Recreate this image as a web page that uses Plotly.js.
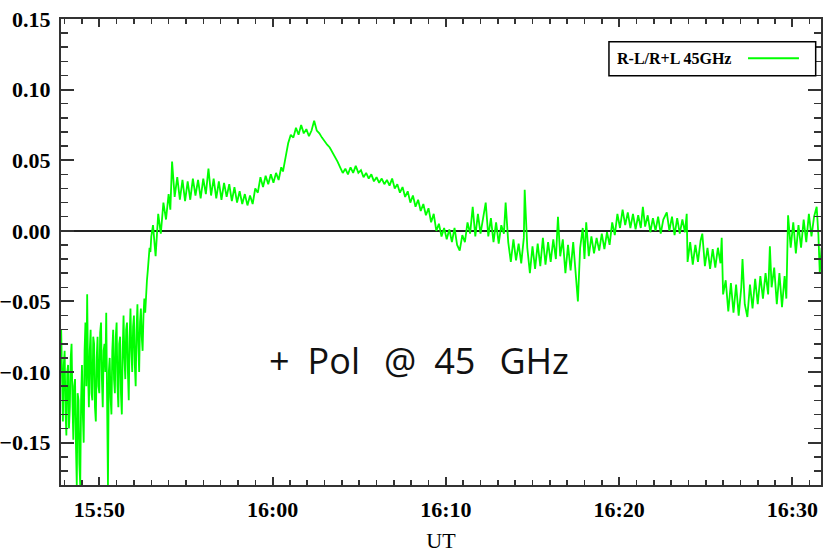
<!DOCTYPE html>
<html><head><meta charset="utf-8">
<script src="https://cdn.plot.ly/plotly-3.0.1.min.js"></script>
<style>html,body{margin:0;padding:0;background:#fff}#chart{width:823px;height:553px}</style>
</head><body><div id="chart"></div>
<script>
// Time of each sample, in minutes after 15:00 UT
const minutesAfter15 = [
47.80,47.85,47.90,47.95,48.00,48.05,48.10,48.15,48.20,48.25,48.30,48.35,48.40,48.45,48.50,48.55,48.60,48.65,48.70,48.75,
48.80,48.85,48.90,48.95,49.00,49.05,49.10,49.15,49.20,49.25,49.30,49.35,49.40,49.45,49.50,49.55,49.60,49.65,49.70,49.75,
49.80,49.85,49.90,49.95,50.00,50.05,50.10,50.15,50.20,50.25,50.30,50.35,50.40,50.45,50.50,50.55,50.60,50.65,50.70,50.75,
50.80,50.85,50.90,50.95,51.00,51.05,51.10,51.15,51.20,51.25,51.30,51.35,51.40,51.45,51.50,51.55,51.60,51.65,51.70,51.75,
51.80,51.85,51.90,51.95,52.00,52.05,52.10,52.15,52.20,52.25,52.30,52.35,52.40,52.45,52.50,52.55,52.60,52.65,52.70,52.75,
52.80,52.85,52.90,52.95,53.00,
53.1,53.25,53.4,53.55,53.7,53.85,54.0,54.1,54.2,54.35,54.5,54.65,54.8,54.95,55.1,55.25,55.4,55.55,55.7,55.85,
56.0,56.15,56.3,56.45,56.6,56.75,56.9,57.05,57.2,57.35,57.5,57.65,57.8,57.95,58.1,58.25,58.4,58.55,58.7,58.85,
59.0,59.15,59.3,59.45,59.6,59.75,59.9,60.05,60.2,60.35,60.5,60.6,60.75,60.9,61.05,61.2,61.35,61.5,61.65,61.8,61.95,
62.1,62.25,62.4,62.55,62.7,62.85,63.0,63.15,63.3,63.45,63.6,63.75,63.9,64.05,64.2,64.35,64.5,64.65,64.8,64.95,
65.1,65.25,65.4,65.55,65.7,65.85,66.0,66.15,66.3,66.45,66.6,66.75,66.9,67.05,67.2,67.35,67.5,67.65,67.8,67.95,
68.1,68.25,68.4,68.55,68.7,68.85,69.0,69.15,69.3,69.45,69.6,69.75,69.9,70.05,70.2,70.35,70.5,70.65,70.8,70.95,
71.1,71.25,71.4,71.55,71.7,71.85,72.0,72.15,72.3,72.45,72.6,72.75,72.9,73.05,73.2,73.35,73.45,73.6,73.75,73.9,
74.05,74.2,74.35,74.5,74.55,74.7,74.85,75.0,75.15,75.3,75.45,75.6,75.75,75.9,76.05,76.2,76.35,76.47,76.6,76.75,
76.9,77.05,77.2,77.35,77.5,77.62,77.75,77.9,78.0,78.1,78.25,78.4,78.55,78.7,78.85,79.0,79.15,79.3,79.45,79.6,
79.75,79.9,80.05,80.2,80.35,80.5,80.65,80.8,80.95,81.1,81.25,81.37,81.5,81.65,81.8,81.95,82.1,82.25,82.4,82.55,
82.75,82.9,83.05,83.2,83.35,83.5,83.65,83.8,83.9,83.95,84.1,84.25,84.4,84.55,84.7,84.8,84.95,85.1,85.25,85.4,
85.55,85.7,85.85,85.92,86.0,86.15,86.3,86.45,86.6,86.75,86.9,87.05,87.12,87.25,87.4,87.55,87.7,87.85,88.0,88.15,
88.3,88.45,88.6,88.7,88.8,88.95,89.1,89.25,89.4,89.55,89.65,89.75,89.9,90.05,90.2,90.35,90.5,90.65,90.8,90.95,
91.1,91.25,91.4,91.5,91.58,91.68
];
// (R-L)/(R+L) at 45 GHz
const polarization = [
-0.070,-0.110,-0.135,-0.095,-0.085,-0.128,-0.145,-0.100,-0.095,-0.140,-0.125,-0.090,-0.080,-0.120,-0.148,-0.110,-0.105,-0.150,-0.180,-0.115,
-0.120,-0.165,-0.180,-0.120,-0.095,-0.130,-0.150,-0.085,-0.065,-0.110,-0.045,-0.100,-0.125,-0.085,-0.070,-0.115,-0.120,-0.075,-0.080,-0.125,
-0.135,-0.090,-0.075,-0.110,-0.115,-0.072,-0.065,-0.105,-0.125,-0.085,-0.080,-0.100,-0.058,-0.120,-0.180,-0.100,-0.090,-0.118,-0.130,-0.085,
-0.070,-0.105,-0.115,-0.075,-0.065,-0.110,-0.125,-0.080,-0.075,-0.115,-0.130,-0.085,-0.060,-0.090,-0.105,-0.070,-0.065,-0.100,-0.120,-0.075,
-0.055,-0.085,-0.100,-0.068,-0.060,-0.095,-0.110,-0.070,-0.052,-0.080,-0.100,-0.065,-0.055,-0.075,-0.085,-0.060,-0.048,-0.058,-0.040,-0.035,
-0.028,-0.020,-0.012,-0.015,-0.004,
0.004,-0.018,0.012,-0.002,0.020,0.008,0.026,0.015,0.049,0.024,0.038,0.022,0.036,0.021,0.035,0.022,0.037,0.025,0.036,0.023,
0.037,0.026,0.044,0.025,0.037,0.023,0.035,0.022,0.034,0.024,0.033,0.021,0.031,0.020,0.028,0.019,0.026,0.018,0.025,0.019,
0.030,0.027,0.038,0.031,0.039,0.033,0.040,0.034,0.041,0.036,0.045,0.042,0.052,0.062,0.068,0.066,0.073,0.068,0.075,0.069,0.072,
0.067,0.071,0.078,0.071,0.069,0.066,0.063,0.061,0.059,0.056,0.052,0.049,0.045,0.041,0.044,0.040,0.045,0.041,0.046,0.041,
0.043,0.038,0.041,0.037,0.040,0.035,0.038,0.034,0.037,0.033,0.036,0.032,0.037,0.030,0.033,0.027,0.031,0.024,0.028,0.020,
0.025,0.017,0.022,0.014,0.019,0.011,0.016,0.006,0.012,0.000,0.005,-0.004,0.002,-0.006,0.001,-0.008,0.002,-0.010,-0.014,-0.003,
-0.008,0.006,-0.002,0.017,-0.004,0.012,-0.002,0.010,0.020,-0.004,0.009,-0.008,0.006,-0.009,0.004,-0.002,0.020,-0.008,-0.022,-0.006,
-0.021,-0.009,-0.023,-0.005,0.029,-0.012,-0.030,-0.011,-0.027,-0.009,-0.025,-0.005,-0.024,-0.008,-0.022,-0.006,-0.020,0.010,-0.018,-0.006,
-0.030,-0.010,-0.028,-0.008,-0.033,-0.050,-0.012,0.002,-0.020,0.006,-0.018,-0.004,-0.016,-0.005,-0.014,-0.002,-0.013,-0.001,-0.010,0.006,
-0.003,0.012,0.002,0.015,0.004,0.013,0.002,0.012,0.001,0.011,0.002,0.017,0.003,0.011,-0.001,0.009,0.000,0.010,-0.002,0.008,
0.013,0.000,0.010,-0.003,0.009,-0.002,0.008,-0.001,0.012,-0.022,-0.008,-0.024,-0.010,-0.022,-0.007,-0.002,-0.025,-0.012,-0.027,-0.013,
-0.026,-0.012,-0.023,-0.005,-0.045,-0.035,-0.057,-0.037,-0.058,-0.038,-0.060,-0.040,-0.020,-0.052,-0.061,-0.038,-0.055,-0.034,-0.052,-0.032,
-0.048,-0.030,-0.045,-0.011,-0.040,-0.026,-0.052,-0.030,-0.054,-0.032,-0.048,0.011,-0.012,0.006,-0.016,0.004,-0.012,0.008,-0.008,0.012,
-0.004,0.010,0.017,-0.003,-0.030,-0.012
];
const seriesName = 'R-L/R+L 45GHz';
const panelLabel = '+\u2002Pol\u2002\u2009@\u200245\u2002\u2009GHz';
const xAxisTitle = 'UT';

const base = Date.UTC(2000, 0, 1, 15, 0, 0);
const toMs = m => base + m * 60000;
const xs = minutesAfter15.map(toMs);

const axisColor = '#333';
const serif = 'Liberation Serif, Times New Roman, serif';

const trace = {
  type: 'scatter', mode: 'lines', name: seriesName,
  x: xs, y: polarization,
  line: {color: '#00ff00', width: 1.8}
};

const layout = {
  width: 823, height: 553,
  margin: {l: 61, r: 2, t: 19, b: 68},
  paper_bgcolor: '#ffffff', plot_bgcolor: '#ffffff',
  showlegend: false,
  font: {family: serif, color: '#000'},
  xaxis: {
    type: 'date', range: [toMs(47.79), toMs(91.65)],
    tick0: toMs(50), dtick: 600000, tickformat: '%H:%M',
    ticks: 'inside', ticklen: 8, tickwidth: 2, tickcolor: axisColor,
    showline: true, linecolor: axisColor, linewidth: 2, mirror: 'ticks',
    showgrid: false, zeroline: false, layer: 'above traces',
    tickfont: {family: serif, size: 22, weight: 'bold', color: '#000'},
    ticklabelstandoff: 4,
    minor: {tick0: toMs(50), dtick: 60000, ticks: 'inside', ticklen: 5, tickwidth: 1.5, tickcolor: axisColor, showgrid: false},
    title: {text: xAxisTitle, font: {family: serif, size: 22, color: '#000'}, standoff: 16}
  },
  yaxis: {
    range: [-0.18, 0.15], tick0: 0, dtick: 0.05, tickformat: '.2f',
    ticks: 'inside', ticklen: 13, tickwidth: 2, tickcolor: axisColor,
    showline: true, linecolor: axisColor, linewidth: 2, mirror: 'ticks',
    showgrid: false, zeroline: true, zerolinecolor: '#222', zerolinewidth: 2,
    layer: 'above traces',
    tickfont: {family: serif, size: 22, weight: 'bold', color: '#000'},
    ticklabelstandoff: 4,
    minor: {tick0: 0, dtick: 0.01, ticks: 'inside', ticklen: 7, tickwidth: 1.5, tickcolor: axisColor, showgrid: false}
  },
  shapes: [
    {type: 'rect', xref: 'paper', yref: 'paper', x0: 0.721, x1: 0.993, y0: 0.878, y1: 0.951,
     fillcolor: '#ffffff', line: {color: '#000', width: 1.5}, layer: 'above'},
    {type: 'line', xref: 'paper', yref: 'paper', x0: 0.904, x1: 0.971, y0: 0.916, y1: 0.916,
     line: {color: '#00ff00', width: 2}, layer: 'above'}
  ],
  annotations: [
    {xref: 'paper', yref: 'paper', x: 0.729, y: 0.916, xanchor: 'left', yanchor: 'middle',
     text: seriesName, showarrow: false,
     font: {family: serif, size: 16, weight: 'bold', color: '#000'}},
    {xref: 'paper', yref: 'paper', x: 0.471, y: 0.268, xanchor: 'center', yanchor: 'middle',
     text: panelLabel, showarrow: false,
     font: {family: 'Open Sans, sans-serif', size: 36, color: '#111'}}
  ]
};

Plotly.newPlot('chart', [trace], layout, {displayModeBar: false, staticPlot: true});
</script>
</body></html>
